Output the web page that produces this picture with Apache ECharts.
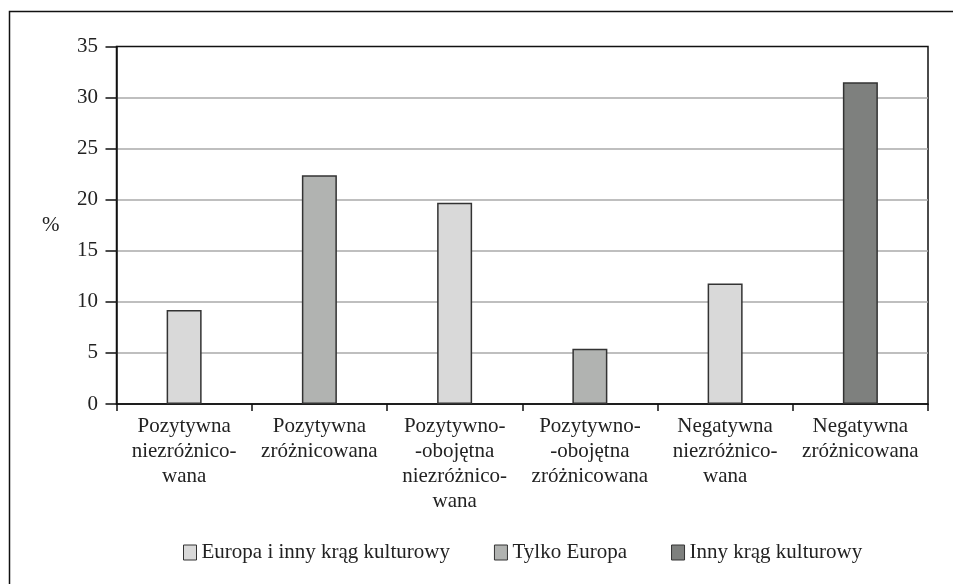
<!DOCTYPE html>
<html>
<head>
<meta charset="utf-8">
<script src="https://cdn.jsdelivr.net/npm/echarts@6/dist/echarts.min.js"></script>
<style>
html,body{margin:0;padding:0;background:#fff;}
#chart{width:953px;height:584px;}
</style>
</head>
<body>
<div id="chart"></div>
<script>
const categories = [
  "Pozytywna\nniezróżnico-\nwana",
  "Pozytywna\nzróżnicowana",
  "Pozytywno-\n-obojętna\nniezróżnico-\nwana",
  "Pozytywno-\n-obojętna\nzróżnicowana",
  "Negatywna\nniezróżnico-\nwana",
  "Negatywna\nzróżnicowana"
];
const seriesNames = ["Europa i inny krąg kulturowy", "Tylko Europa", "Inny krąg kulturowy"];
const europaIInny = [9.2, null, 19.7, null, 11.8, null];
const tylkoEuropa = [null, 22.4, null, 5.4, null, null];
const innyKrag = [null, null, null, null, null, 31.5];
const yTicks = [0, 5, 10, 15, 20, 25, 30, 35];

const font = "Liberation Serif";
const colors = ["#d9d9d9", "#b1b3b1", "#7e807e"];
const chart = echarts.init(document.getElementById('chart'), null, {renderer: 'canvas'});

function barSeries(name, data, color) {
  return {
    name: name,
    type: 'bar',
    stack: 'all',
    data: data,
    barWidth: 35,
    itemStyle: {color: color, borderColor: '#333', borderWidth: 1.5},
    emphasis: {disabled: true}
  };
}

chart.setOption({
  animation: false,
  textStyle: {fontFamily: font},
  color: colors,
  graphic: [{
    type: 'rect',
    shape: {x: 9.5, y: 11.5, width: 1000, height: 700},
    style: {fill: 'none', stroke: '#111', lineWidth: 1.5},
    silent: true
  }],
  grid: {
    left: 116.5, right: 25, top: 46.5, bottom: 180,
    show: true, borderColor: '#111', borderWidth: 1.5, backgroundColor: 'transparent'
  },
  legend: {
    left: 178, top: 537,
    icon: 'rect', itemWidth: 13, itemHeight: 15, itemGap: 44,
    textStyle: {fontFamily: font, fontSize: 21, color: '#222'},
    itemStyle: {borderColor: '#333', borderWidth: 1},
    data: seriesNames,
    selectedMode: false
  },
  xAxis: {
    type: 'category',
    data: categories,
    boundaryGap: true,
    axisLine: {lineStyle: {color: '#111', width: 1.5}},
    axisTick: {show: true, interval: 0, length: 7, lineStyle: {color: '#111', width: 1.5}},
    axisLabel: {interval: 0, margin: 9.5, fontFamily: font, fontSize: 21, lineHeight: 25, color: '#222'}
  },
  yAxis: {
    type: 'value',
    min: 0, max: 35, interval: 5,
    name: '%',
    nameLocation: 'middle',
    nameRotate: 0,
    nameGap: 57,
    nameTextStyle: {fontFamily: font, fontSize: 21, color: '#222'},
    axisLine: {show: true, lineStyle: {color: '#111', width: 1.5}},
    axisTick: {show: true, length: 11, lineStyle: {color: '#111', width: 1.5}},
    axisLabel: {margin: 18.5, fontFamily: font, fontSize: 21, color: '#222',
      formatter: function (v) { return yTicks.indexOf(v) >= 0 ? String(v) : ''; }},
    splitLine: {show: true, showMaxLine: false, showMinLine: false, lineStyle: {color: '#aaa', width: 1.5}}
  },
  series: [
    barSeries(seriesNames[0], europaIInny, colors[0]),
    barSeries(seriesNames[1], tylkoEuropa, colors[1]),
    barSeries(seriesNames[2], innyKrag, colors[2])
  ]
});
</script>
</body>
</html>
